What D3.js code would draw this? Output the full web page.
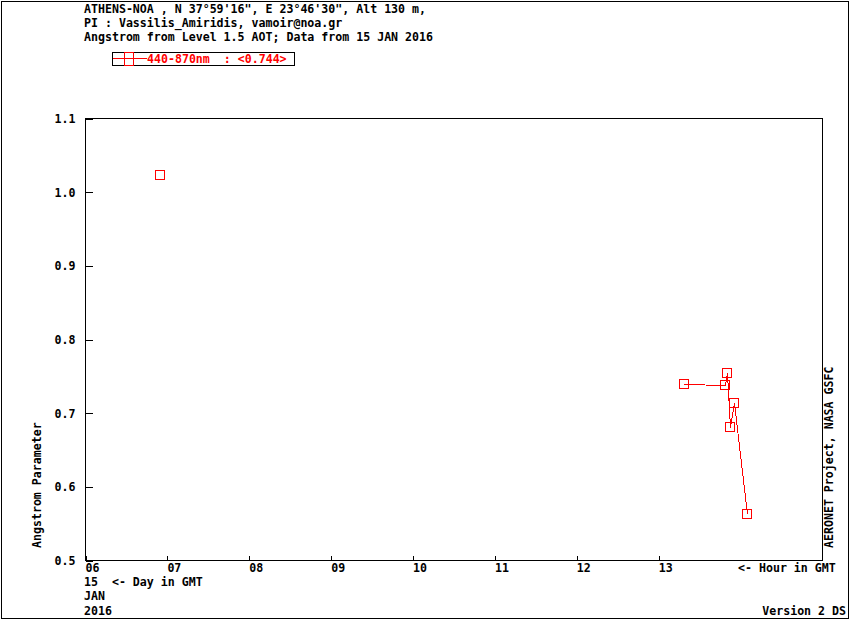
<!DOCTYPE html>
<html>
<head>
<meta charset="utf-8">
<script src="https://cdn.jsdelivr.net/npm/d3@7"></script>
<style>
  body { margin: 0; background: #fff; }
  svg text { font-family: "DejaVu Sans Mono", monospace; font-size: 11.6px; font-weight: bold; white-space: pre; }
</style>
</head>
<body>
<div id="chart"></div>
<script>
// data
const hours = [6.915, 13.317, 13.817, 13.84, 13.878, 13.927, 14.085];
const angstrom = [1.022, 0.739, 0.738, 0.754, 0.681, 0.713, 0.563];
const yTicks = [0.5, 0.6, 0.7, 0.8, 0.9, 1.0, 1.1];
const xTicks = [6, 7, 8, 9, 10, 11, 12, 13];
const headerLines = [
  'ATHENS-NOA , N 37°59\'16", E 23°46\'30", Alt 130 m,',
  'PI : Vassilis_Amiridis, vamoir@noa.gr',
  'Angstrom from Level 1.5 AOT; Data from 15 JAN 2016'
];
const legendLabel = '440-870nm  : <0.744>';

const w = 850, h = 620;
const plotLeft = 85, plotRight = 822, plotTop = 118, plotBottom = 560;
const red = '#ff0000';

const svg = d3.select('#chart').append('svg')
  .attr('width', w).attr('height', h)
  .attr('shape-rendering', 'crispEdges');

/* outer frame */
svg.append('rect')
  .attr('x', 1.5).attr('y', 1.5)
  .attr('width', w - 3).attr('height', h - 3)
  .attr('fill', 'none').attr('stroke', '#000');

/* header */
svg.append('g').selectAll('text')
  .data(headerLines).join('text')
  .attr('x', 84).attr('y', (d, i) => 13 + i * 14)
  .text(d => d);

/* legend */
const lg = svg.append('g');
lg.append('rect').attr('x', 112.5).attr('y', 52.5).attr('width', 182).attr('height', 13)
  .attr('fill', 'none').attr('stroke', '#000');
lg.append('line').attr('x1', 113).attr('x2', 147).attr('y1', 58.5).attr('y2', 58.5).attr('stroke', red);
lg.append('rect').attr('x', 124.5).attr('y', 52.5).attr('width', 9).attr('height', 13)
  .attr('fill', 'none').attr('stroke', red);
lg.append('text').attr('x', 147).attr('y', 63).attr('fill', red).text(legendLabel);

/* scales */
const x = d3.scaleLinear().domain([6, 15]).range([plotLeft, plotRight]);
const y = d3.scaleLinear().domain([0.5, 1.1]).range([plotBottom, plotTop]);

/* plot frame */
svg.append('rect')
  .attr('x', plotLeft + 0.5).attr('y', plotTop + 0.5)
  .attr('width', plotRight - plotLeft).attr('height', plotBottom - plotTop)
  .attr('fill', 'none').attr('stroke', '#000');

/* y axis */
const yAxis = svg.append('g')
  .attr('transform', `translate(${plotLeft + 0.5},0.5)`)
  .call(d3.axisLeft(y).tickValues(yTicks).tickFormat(d3.format('.1f'))
    .tickSizeInner(-7).tickSizeOuter(0).tickPadding(10));
yAxis.select('.domain').remove();
yAxis.selectAll('text').attr('dy', '0.35em');
yAxis.attr('font-size', null).attr('font-family', null);

/* x axis */
const xAxis = svg.append('g')
  .attr('transform', `translate(0.5,${plotBottom + 0.5})`)
  .call(d3.axisBottom(x).tickValues(xTicks).tickFormat(d => d3.format('02d')(d))
    .tickSizeInner(-5).tickSizeOuter(0).tickPadding(3));
xAxis.select('.domain').remove();
xAxis.selectAll('text').attr('text-anchor', 'start').attr('dx', -0.5);
xAxis.attr('font-size', null).attr('font-family', null);

/* axis labels */
svg.append('text').attr('transform', 'translate(41,548) rotate(-90)').text('Angstrom Parameter');
svg.append('text').attr('transform', 'translate(833,548) rotate(-90)').text('AERONET Project, NASA GSFC');
svg.append('text').attr('x', 738).attr('y', 572).text('<- Hour in GMT');
svg.append('text').attr('x', 84).attr('y', 586).text('15  <- Day in GMT');
svg.append('text').attr('x', 84).attr('y', 600).text('JAN');
svg.append('text').attr('x', 84).attr('y', 615).text('2016');
svg.append('text').attr('x', 846).attr('y', 615).attr('text-anchor', 'end').text('Version 2 DS');

/* series: split into runs where the time gap is small */
const pts = hours.map((hr, i) => ({ hr, v: angstrom[i] }));
const runs = [];
pts.forEach((p, i) => {
  if (i === 0 || p.hr - pts[i - 1].hr > 2) runs.push([]);
  runs[runs.length - 1].push(p);
});
const line = d3.line().x(d => Math.round(x(d.hr)) + 0.5).y(d => Math.round(y(d.v)) + 0.5);
svg.append('g').selectAll('path')
  .data(runs.filter(r => r.length > 1)).join('path')
  .attr('d', line).attr('fill', 'none').attr('stroke', red)
  .attr('stroke-width', 1);

svg.append('g').selectAll('rect')
  .data(pts).join('rect')
  .attr('x', d => Math.round(x(d.hr)) - 4.5)
  .attr('y', d => Math.round(y(d.v)) - 4.5)
  .attr('width', 9).attr('height', 9)
  .attr('fill', 'none').attr('stroke', red);
</script>
</body>
</html>
